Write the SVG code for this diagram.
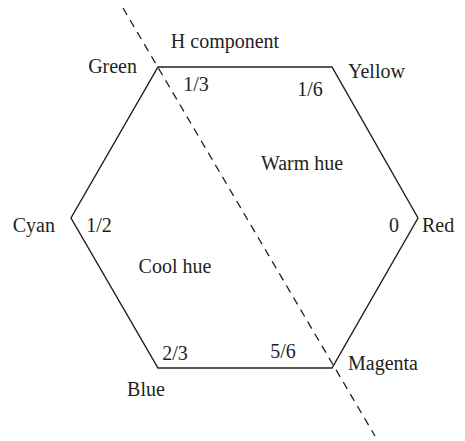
<svg xmlns="http://www.w3.org/2000/svg" width="465" height="441" viewBox="0 0 465 441">
<style>
text{font-family:"Liberation Serif","Times New Roman",serif;font-size:20px;fill:#231f20}
.hex{fill:none;stroke:#231f20;stroke-width:1.4;stroke-linejoin:miter}
.dash{fill:none;stroke:#231f20;stroke-width:1.3;stroke-dasharray:8,6}
</style>
<rect width="465" height="441" fill="#fff"/>
<g id="connectors">
<polygon class="hex" points="158,67 332,67 418,218 332,368 158,368 71,218"/>
<line class="dash" x1="123" y1="8" x2="375" y2="436"/>
</g>
<g id="labels">
<text x="225" y="48" text-anchor="middle">H component</text>
<text x="137" y="73" text-anchor="end">Green</text>
<text x="348" y="78">Yellow</text>
<text x="196" y="91" text-anchor="middle">1/3</text>
<text x="310" y="96" text-anchor="middle">1/6</text>
<text x="302" y="170" text-anchor="middle">Warm hue</text>
<text x="55" y="232" text-anchor="end">Cyan</text>
<text x="99" y="232" text-anchor="middle">1/2</text>
<text x="394" y="232" text-anchor="middle">0</text>
<text x="422" y="232">Red</text>
<text x="175" y="273" text-anchor="middle">Cool hue</text>
<text x="175" y="360" text-anchor="middle">2/3</text>
<text x="283" y="358" text-anchor="middle">5/6</text>
<text x="348" y="370">Magenta</text>
<text x="146" y="396" text-anchor="middle">Blue</text>
</g>
</svg>
